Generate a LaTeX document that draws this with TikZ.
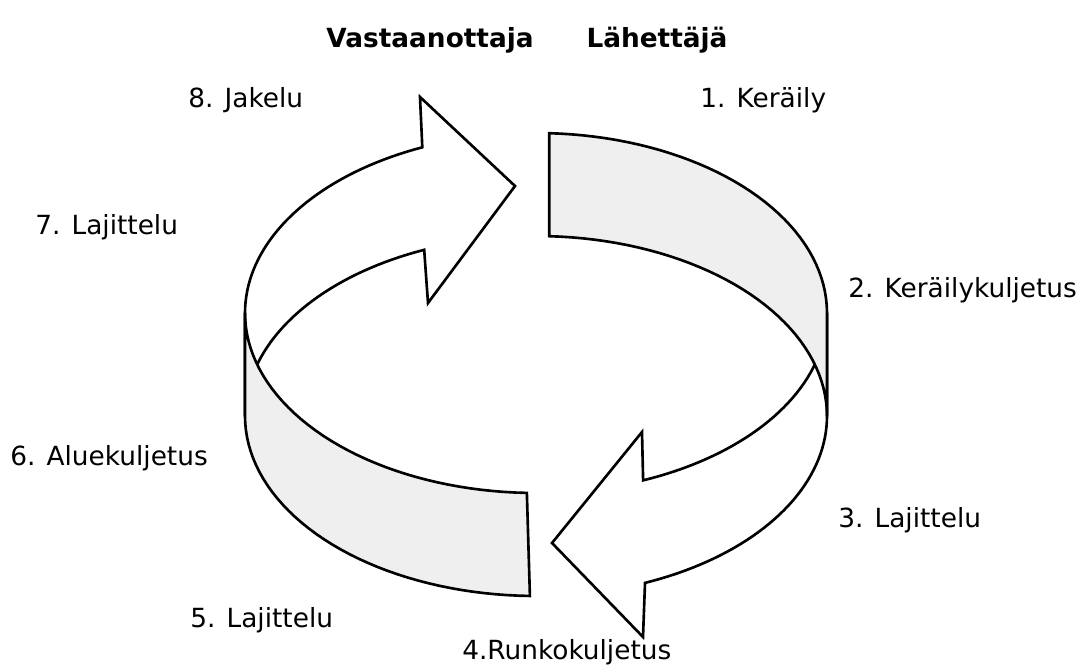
\documentclass[tikz,border=0pt]{standalone}
\usepackage{fontspec}
\setmainfont{DejaVu Sans}
\usetikzlibrary{positioning}
\tikzstyle{ribbon} = [draw=black, line width=1.5pt, line join=miter]
\definecolor{bandgrey}{RGB}{239,239,239}

\begin{document}
\begin{tikzpicture}[x=0.02cm, y=-0.02cm,
    tail/.style={ribbon, fill=bandgrey},
    curvedarrow/.style={ribbon, fill=white},
    lbl/.style={font=\fontsize{15}{18}\selectfont, inner sep=0pt, anchor=west},
    side/.style={font=\fontsize{15}{18}\selectfont\bfseries, inner sep=0pt},
]
\useasboundingbox (0,0) rectangle (1085,665);

% Sides (top)
\node[side] (recv) at (430, 40) {Vastaanottaja};
\node[side] (send) at (657, 40) {Lähettäjä};

% Arrow to receiver (upper left, back of the ring)
\draw[curvedarrow] plot[domain=180:113, samples=40, variable=\t] ({536+291*cos(\t)}, {313-180*sin(\t)})
    -- (420,97) -- (515,186) -- (428,303)
    -- plot[domain=112.6:180, samples=40, variable=\t] ({536+291*cos(\t)}, {416-180*sin(\t)}) -- cycle;

% Arrow from sender (lower right, front of the ring)
\draw[curvedarrow] plot[domain=0:-68.4, samples=40, variable=\t] ({536+291*cos(\t)}, {313-180*sin(\t)})
    -- (642,432) -- (552,543) -- (643,637)
    -- plot[domain=-68:0, samples=40, variable=\t] ({536+291*cos(\t)}, {416-180*sin(\t)}) -- cycle;

% Grey tails, drawn over the arrow ends
\draw[tail] plot[domain=87.4:0, samples=40, variable=\t] ({536+291*cos(\t)}, {313-180*sin(\t)})
    -- plot[domain=0:87.4, samples=40, variable=\t] ({536+291*cos(\t)}, {416-180*sin(\t)}) -- cycle;
\draw[tail] plot[domain=180:268.2, samples=40, variable=\t] ({536+291*cos(\t)}, {313-180*sin(\t)})
    -- plot[domain=268.8:180, samples=40, variable=\t] ({536+291*cos(\t)}, {416-180*sin(\t)}) -- cycle;

% Steps round the ring
\node[lbl] (s1) at (700, 100) {1. Keräily};
\node[lbl] (s2) at (848, 290) {2. Keräilykuljetus};
\node[lbl] (s3) at (838, 520) {3. Lajittelu};
\node[lbl] (s4) at (462, 652) {4.Runkokuljetus};
\node[lbl] (s5) at (190, 620) {5. Lajittelu};
\node[lbl] (s6) at (10, 458) {6. Aluekuljetus};
\node[lbl] (s7) at (35, 227) {7. Lajittelu};
\node[lbl] (s8) at (188, 100) {8. Jakelu};

\end{tikzpicture}
\end{document}
